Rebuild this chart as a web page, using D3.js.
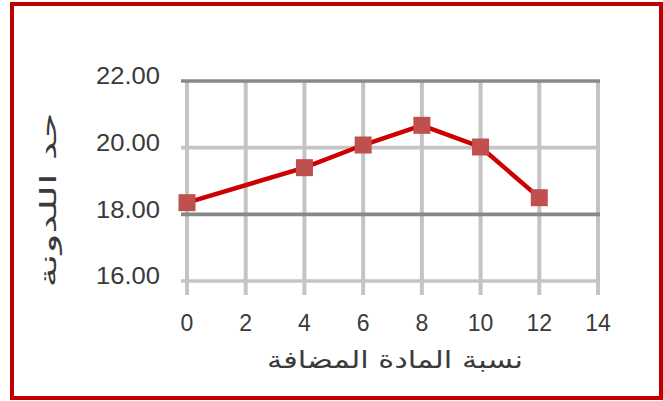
<!DOCTYPE html>
<html>
<head>
<meta charset="utf-8">
<script src="https://cdn.jsdelivr.net/npm/d3@7"></script>
<style>
  body { margin: 0; background: #fff; }
  svg { display: block; }
  text { font-family: 'Liberation Sans', 'DejaVu Sans', sans-serif; fill: #3a3a3a; }
</style>
</head>
<body>
<svg id="chart" width="663" height="401"></svg>
<script>
// data
var xValues = [0, 4, 6, 8, 10, 12];
var yValues = [18.35, 19.4, 20.08, 20.67, 20.02, 18.5];
var xTicks = [0, 2, 4, 6, 8, 10, 12, 14];
var yTicks = [16, 18, 20, 22];
var xTitle = 'نسبة المادة المضافة';
var yTitle = 'حد اللدونة';

var svg = d3.select('#chart');
var fmt = d3.format('.2f');

var x = d3.scaleLinear().domain([0, 14]).range([187, 598]);
var y = d3.scaleLinear().domain([16, 22]).range([281, 81]);

// outer red frame
svg.append('rect')
    .attr('x', 12).attr('y', 4)
    .attr('width', 649).attr('height', 394)
    .attr('fill', 'none')
    .attr('stroke', '#c00000')
    .attr('stroke-width', 4);

// vertical grid (runs a bit under the plot as ticks)
svg.append('g').selectAll('line')
    .data(xTicks).enter().append('line')
    .attr('x1', d => x(d)).attr('x2', d => x(d))
    .attr('y1', y(22)).attr('y2', y(16) + 14)
    .attr('stroke', '#c4c4c4')
    .attr('stroke-width', 4);

// horizontal grid, 18 and 22 come out darker in the original
svg.append('g').selectAll('line')
    .data(yTicks).enter().append('line')
    .attr('x1', x(0) - 6).attr('x2', x(14) + 2)
    .attr('y1', d => y(d)).attr('y2', d => y(d))
    .attr('stroke', d => (d === 18 || d === 22) ? '#888' : '#c4c4c4')
    .attr('stroke-width', 3.7);

// tick labels
svg.append('g').selectAll('text')
    .data(yTicks).enter().append('text')
    .attr('x', 160)
    .attr('y', d => y(d) - 3)
    .attr('text-anchor', 'end')
    .attr('dominant-baseline', 'middle')
    .attr('textLength', 64)
    .attr('lengthAdjust', 'spacingAndGlyphs')
    .style('font-size', '24px')
    .text(d => fmt(d));

svg.append('g').selectAll('text')
    .data(xTicks).enter().append('text')
    .attr('x', d => x(d))
    .attr('y', 325)
    .attr('text-anchor', 'middle')
    .attr('dominant-baseline', 'middle')
    .style('font-size', '23px')
    .text(d => d);

// series
var pts = xValues.map((d, i) => [d, yValues[i]]);
var line = d3.line().x(d => x(d[0])).y(d => y(d[1]));

svg.append('path')
    .datum(pts)
    .attr('d', line)
    .attr('fill', 'none')
    .attr('stroke', '#cc0000')
    .attr('stroke-width', 4.5);

svg.append('g').selectAll('rect')
    .data(pts).enter().append('rect')
    .attr('x', d => x(d[0]) - 8.5)
    .attr('y', d => y(d[1]) - 8.5)
    .attr('width', 17).attr('height', 17)
    .attr('fill', '#c0504d');

// axis titles
svg.append('text')
    .attr('x', 395).attr('y', 368)
    .attr('text-anchor', 'middle')
    .attr('direction', 'rtl')
    .attr('textLength', 256)
    .attr('lengthAdjust', 'spacingAndGlyphs')
    .style('font-size', '24px')
    .style('font-family', "'DejaVu Sans', sans-serif")
    .text(xTitle);

svg.append('text')
    .attr('transform', 'translate(56,200) rotate(-90)')
    .attr('text-anchor', 'middle')
    .attr('direction', 'rtl')
    .attr('textLength', 175)
    .attr('lengthAdjust', 'spacingAndGlyphs')
    .style('font-size', '23px')
    .style('font-family', "'DejaVu Sans', sans-serif")
    .text(yTitle);
</script>
</body>
</html>
